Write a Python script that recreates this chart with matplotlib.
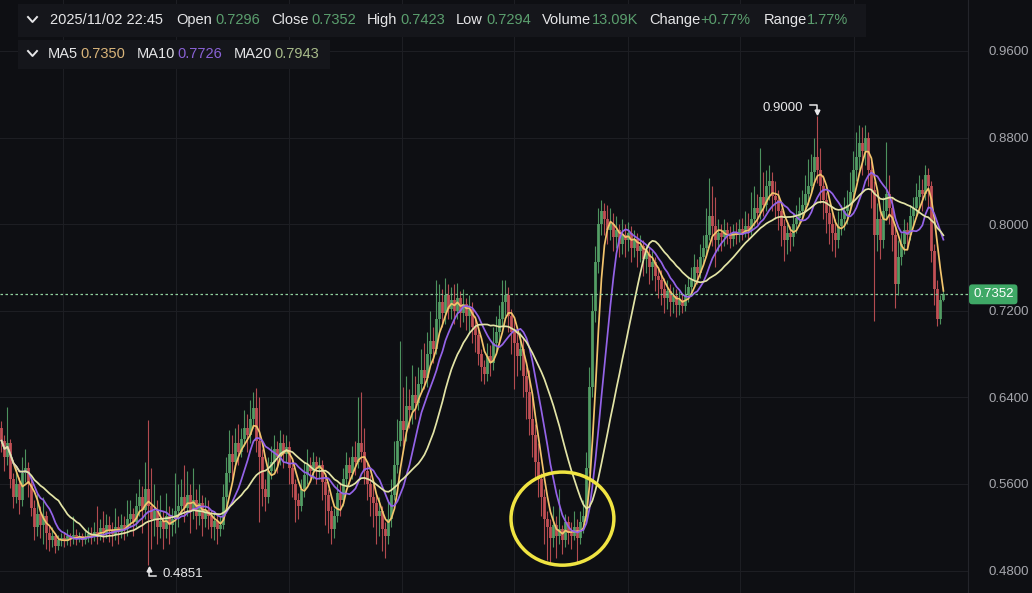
import numpy as np
import pandas as pd
import matplotlib
matplotlib.use('Agg')
import matplotlib.pyplot as plt
from matplotlib.patches import Ellipse, Rectangle
from matplotlib.lines import Line2D
from matplotlib.transforms import blended_transform_factory

W, H = 1032, 593

first_open = 0.612
closes = [0.600, 0.585, 0.598, 0.565, 0.548, 0.560, 0.545, 0.570, 0.575, 0.560,
          0.538, 0.520, 0.532, 0.522, 0.530, 0.515, 0.508, 0.512, 0.503, 0.508,
          0.510, 0.507, 0.512, 0.509, 0.513, 0.510, 0.512, 0.508, 0.511, 0.514,
          0.512, 0.516, 0.513, 0.519, 0.515, 0.522, 0.517, 0.514, 0.520, 0.516,
          0.522, 0.518, 0.528, 0.532, 0.525, 0.540, 0.548, 0.536, 0.555, 0.540,
          0.528, 0.535, 0.520, 0.526, 0.518, 0.530, 0.522, 0.528, 0.535, 0.540,
          0.548, 0.538, 0.550, 0.535, 0.545, 0.530, 0.542, 0.528, 0.536, 0.530,
          0.520, 0.526, 0.518, 0.522, 0.548, 0.570, 0.588, 0.580, 0.598, 0.590,
          0.602, 0.612, 0.605, 0.620, 0.630, 0.600, 0.585, 0.555, 0.548, 0.572,
          0.580, 0.592, 0.585, 0.598, 0.588, 0.594, 0.575, 0.560, 0.545, 0.540,
          0.555, 0.568, 0.578, 0.572, 0.580, 0.574, 0.578, 0.562, 0.550, 0.535,
          0.518, 0.530, 0.552, 0.545, 0.565, 0.578, 0.570, 0.585, 0.580, 0.598,
          0.590, 0.572, 0.560, 0.548, 0.542, 0.530, 0.535, 0.518, 0.512, 0.528,
          0.550, 0.578, 0.600, 0.618, 0.610, 0.632, 0.628, 0.642, 0.635, 0.652,
          0.665, 0.658, 0.680, 0.692, 0.685, 0.712, 0.728, 0.718, 0.735, 0.722,
          0.730, 0.720, 0.732, 0.718, 0.726, 0.715, 0.722, 0.705, 0.698, 0.680,
          0.668, 0.662, 0.678, 0.672, 0.690, 0.700, 0.712, 0.728, 0.735, 0.715,
          0.700, 0.690, 0.678, 0.685, 0.660, 0.645, 0.620, 0.605, 0.580, 0.565,
          0.548, 0.528, 0.520, 0.510, 0.522, 0.512, 0.518, 0.508, 0.525, 0.515,
          0.512, 0.520, 0.510, 0.525, 0.530, 0.575, 0.650, 0.720, 0.765, 0.800,
          0.812, 0.805, 0.795, 0.800, 0.788, 0.795, 0.782, 0.790, 0.785, 0.792,
          0.778, 0.786, 0.775, 0.780, 0.768, 0.772, 0.760, 0.765, 0.752, 0.748,
          0.740, 0.732, 0.738, 0.728, 0.734, 0.725, 0.730, 0.724, 0.735, 0.742,
          0.748, 0.760, 0.755, 0.770, 0.778, 0.790, 0.808, 0.798, 0.785, 0.792,
          0.788, 0.795, 0.790, 0.786, 0.793, 0.790, 0.796, 0.792, 0.798, 0.794,
          0.805, 0.815, 0.810, 0.825, 0.818, 0.835, 0.840, 0.826, 0.822, 0.812,
          0.798, 0.785, 0.792, 0.788, 0.800, 0.806, 0.812, 0.818, 0.828, 0.835,
          0.848, 0.862, 0.850, 0.835, 0.822, 0.810, 0.800, 0.792, 0.785, 0.798,
          0.805, 0.812, 0.818, 0.830, 0.850, 0.862, 0.875, 0.868, 0.880, 0.850,
          0.832, 0.790, 0.805, 0.785, 0.812, 0.828, 0.815, 0.790, 0.745, 0.770,
          0.782, 0.795, 0.790, 0.808, 0.815, 0.825, 0.832, 0.828, 0.845, 0.835,
          0.775, 0.740, 0.712, 0.7296, 0.7352]
highs = [0.618, 0.605, 0.631, 0.602, 0.570, 0.575, 0.566, 0.585, 0.592, 0.580,
         0.565, 0.545, 0.552, 0.540, 0.548, 0.535, 0.522, 0.520, 0.515, 0.513,
         0.515, 0.516, 0.518, 0.515, 0.530, 0.518, 0.516, 0.515, 0.517, 0.520,
         0.520, 0.525, 0.540, 0.528, 0.535, 0.532, 0.530, 0.525, 0.538, 0.530,
         0.532, 0.530, 0.545, 0.545, 0.538, 0.552, 0.565, 0.558, 0.580, 0.619,
         0.575, 0.560, 0.545, 0.550, 0.535, 0.552, 0.540, 0.538, 0.570, 0.560,
         0.565, 0.578, 0.572, 0.560, 0.575, 0.555, 0.560, 0.550, 0.548, 0.545,
         0.536, 0.535, 0.532, 0.530, 0.560, 0.585, 0.610, 0.605, 0.612, 0.615,
         0.612, 0.628, 0.625, 0.638, 0.645, 0.649, 0.640, 0.592, 0.565, 0.585,
         0.595, 0.605, 0.600, 0.610, 0.606, 0.605, 0.600, 0.582, 0.565, 0.552,
         0.565, 0.580, 0.592, 0.585, 0.590, 0.586, 0.585, 0.582, 0.570, 0.555,
         0.540, 0.538, 0.560, 0.562, 0.575, 0.590, 0.585, 0.595, 0.600, 0.640,
         0.645, 0.612, 0.580, 0.568, 0.560, 0.550, 0.548, 0.540, 0.525, 0.545,
         0.565, 0.600, 0.620, 0.692, 0.650, 0.660, 0.648, 0.670, 0.660, 0.668,
         0.685, 0.690, 0.700, 0.720, 0.705, 0.748, 0.745, 0.740, 0.750, 0.745,
         0.742, 0.745, 0.746, 0.738, 0.740, 0.732, 0.735, 0.728, 0.715, 0.705,
         0.685, 0.675, 0.690, 0.688, 0.705, 0.715, 0.725, 0.748, 0.748, 0.742,
         0.722, 0.712, 0.705, 0.700, 0.695, 0.668, 0.665, 0.640, 0.615, 0.598,
         0.570, 0.555, 0.535, 0.528, 0.540, 0.530, 0.555, 0.522, 0.532, 0.530,
         0.525, 0.535, 0.528, 0.535, 0.545, 0.590, 0.668, 0.735, 0.780, 0.815,
         0.822, 0.820, 0.818, 0.815, 0.810, 0.808, 0.800, 0.805, 0.800, 0.802,
         0.798, 0.795, 0.792, 0.790, 0.785, 0.782, 0.778, 0.775, 0.770, 0.760,
         0.758, 0.750, 0.748, 0.745, 0.742, 0.740, 0.738, 0.736, 0.745, 0.752,
         0.760, 0.772, 0.768, 0.782, 0.790, 0.815, 0.843, 0.835, 0.825, 0.805,
         0.800, 0.805, 0.802, 0.798, 0.800, 0.802, 0.805, 0.806, 0.812, 0.810,
         0.830, 0.835, 0.828, 0.870, 0.848, 0.850, 0.855, 0.848, 0.840, 0.832,
         0.815, 0.805, 0.800, 0.798, 0.810, 0.818, 0.825, 0.832, 0.845, 0.860,
         0.865, 0.880, 0.900, 0.870, 0.845, 0.830, 0.818, 0.812, 0.805, 0.812,
         0.818, 0.825, 0.832, 0.848, 0.868, 0.885, 0.892, 0.890, 0.892, 0.885,
         0.858, 0.840, 0.820, 0.815, 0.825, 0.876, 0.845, 0.825, 0.800, 0.785,
         0.792, 0.805, 0.802, 0.818, 0.825, 0.838, 0.845, 0.842, 0.855, 0.852,
         0.840, 0.782, 0.748, 0.735, 0.7423]
lows = [0.590, 0.572, 0.578, 0.556, 0.538, 0.542, 0.532, 0.540, 0.562, 0.548,
        0.530, 0.508, 0.512, 0.510, 0.505, 0.500, 0.498, 0.502, 0.496, 0.499,
        0.503, 0.502, 0.504, 0.503, 0.505, 0.504, 0.506, 0.503, 0.505, 0.506,
        0.505, 0.507, 0.505, 0.508, 0.506, 0.510, 0.506, 0.503, 0.508, 0.505,
        0.510, 0.508, 0.512, 0.520, 0.512, 0.520, 0.530, 0.515, 0.528, 0.4851,
        0.500, 0.512, 0.505, 0.510, 0.500, 0.510, 0.505, 0.512, 0.515, 0.520,
        0.532, 0.525, 0.530, 0.515, 0.528, 0.518, 0.522, 0.512, 0.520, 0.518,
        0.510, 0.508, 0.505, 0.512, 0.518, 0.540, 0.562, 0.565, 0.575, 0.578,
        0.585, 0.595, 0.590, 0.598, 0.612, 0.590, 0.525, 0.540, 0.535, 0.542,
        0.565, 0.572, 0.570, 0.578, 0.575, 0.580, 0.560, 0.548, 0.525, 0.528,
        0.535, 0.548, 0.560, 0.562, 0.565, 0.560, 0.565, 0.545, 0.522, 0.515,
        0.505, 0.510, 0.525, 0.530, 0.540, 0.558, 0.560, 0.565, 0.568, 0.575,
        0.580, 0.560, 0.545, 0.530, 0.520, 0.505, 0.512, 0.498, 0.492, 0.505,
        0.520, 0.545, 0.570, 0.595, 0.595, 0.600, 0.612, 0.615, 0.620, 0.628,
        0.645, 0.648, 0.650, 0.670, 0.672, 0.680, 0.700, 0.705, 0.708, 0.712,
        0.712, 0.708, 0.712, 0.705, 0.710, 0.702, 0.700, 0.690, 0.682, 0.670,
        0.655, 0.652, 0.655, 0.660, 0.665, 0.680, 0.690, 0.705, 0.715, 0.700,
        0.680, 0.648, 0.660, 0.665, 0.640, 0.620, 0.605, 0.585, 0.565, 0.548,
        0.530, 0.505, 0.490, 0.487, 0.502, 0.492, 0.505, 0.495, 0.502, 0.505,
        0.500, 0.508, 0.488, 0.505, 0.515, 0.525, 0.570, 0.640, 0.710, 0.755,
        0.790, 0.790, 0.782, 0.785, 0.775, 0.778, 0.770, 0.772, 0.770, 0.775,
        0.765, 0.770, 0.760, 0.765, 0.752, 0.755, 0.745, 0.748, 0.738, 0.732,
        0.725, 0.718, 0.722, 0.715, 0.718, 0.714, 0.716, 0.718, 0.720, 0.728,
        0.735, 0.742, 0.745, 0.750, 0.762, 0.770, 0.785, 0.780, 0.760, 0.775,
        0.775, 0.780, 0.782, 0.778, 0.780, 0.782, 0.784, 0.785, 0.788, 0.786,
        0.790, 0.798, 0.800, 0.805, 0.808, 0.812, 0.822, 0.812, 0.805, 0.795,
        0.780, 0.766, 0.772, 0.775, 0.780, 0.792, 0.798, 0.805, 0.812, 0.818,
        0.828, 0.840, 0.838, 0.820, 0.805, 0.792, 0.782, 0.775, 0.770, 0.778,
        0.790, 0.795, 0.800, 0.810, 0.825, 0.840, 0.850, 0.845, 0.855, 0.835,
        0.815, 0.711, 0.775, 0.768, 0.778, 0.805, 0.800, 0.775, 0.723, 0.735,
        0.762, 0.772, 0.778, 0.785, 0.798, 0.808, 0.815, 0.812, 0.822, 0.815,
        0.765, 0.725, 0.706, 0.708, 0.7294]

ma_periods = [5, 10, 20]
ma_colors = ['#f2c46d', '#9463e8', '#e3e4a6']
y_ticks = [0.48, 0.56, 0.64, 0.72, 0.80, 0.88, 0.96]
grid_x = [20.5, 58.1, 95.8, 133.4, 171.0, 208.7, 246.3, 284.1]

header_row1 = [(50, '2025/11/02 22:45', 'w'), (176, 'Open', 'w'), (215, '0.7296', 'g'),
               (271, 'Close', 'w'), (311, '0.7352', 'g'), (367, 'High', 'w'),
               (400, '0.7423', 'g'), (456, 'Low', 'w'), (486, '0.7294', 'g'),
               (542, 'Volume', 'w'), (592, '13.09K', 'g'), (649, 'Change', 'w'),
               (700, '+0.77%', 'g'), (764, 'Range', 'w'), (807, '1.77%', 'g')]
header_row2 = [(48, 'MA5', 'w'), (80, '0.7350', '#d9b47a'), (137, 'MA10', 'w'),
               (177, '0.7726', '#8a62d6'), (234, 'MA20', 'w'), (274, '0.7943', '#a8bb8a')]

# highlight circle around the bottom (data coords)
circle_center = (187.0, 0.528)
circle_size = (34.3, 0.086)

BG = '#0e0f13'
UP, DOWN = '#55a167', '#c65257'
plt.rcParams['font.family'] = ['Liberation Sans', 'DejaVu Sans']

closes = np.array(closes)
highs = np.array(highs)
lows = np.array(lows)
opens = np.r_[first_open, closes[:-1]]
x = np.arange(len(closes))

fig = plt.figure(figsize=(W / 100, H / 100), dpi=100, facecolor=BG)
ax = fig.add_axes([0, 0, 968 / W, 1])
ax.set_facecolor(BG)
ax.set_xlim(-0.5, 322.2)
ax.set_ylim(0.4593, 1.0071)

up = closes >= opens
colors = np.where(up, UP, DOWN)
ax.vlines(x, lows, highs, colors=colors, lw=0.8, alpha=0.9, zorder=2)
body_lo = np.minimum(opens, closes)
body_h = np.maximum(np.abs(closes - opens), 0.0008)
ax.bar(x, body_h, bottom=body_lo, width=0.85, color=colors, alpha=0.85,
       linewidth=0, zorder=2)

s = pd.Series(closes)
for p, c in zip(ma_periods, ma_colors):
    ax.plot(x, s.rolling(p, min_periods=1).mean(), color=c, lw=1.25, zorder=3)

ax.yaxis.tick_right()
ax.set_yticks(y_ticks)
ax.set_yticklabels([f'{t:.4f}' for t in y_ticks])
ax.set_xticks(grid_x)
ax.tick_params(axis='x', length=0, labelbottom=False)
ax.tick_params(axis='y', length=0, pad=15, labelcolor='#a6a7ad', labelsize=9.5)
ax.grid(color='#1d1e23', lw=0.8, zorder=0)
for side in ['top', 'left', 'bottom']:
    ax.spines[side].set_visible(False)
ax.spines['right'].set_color('#24252b')

last = closes[-1]
ax.axhline(last, color='#8fcf9d', ls=(0, (2, 2)), lw=0.9, zorder=4)
tr = blended_transform_factory(ax.transAxes, ax.transData)
ax.text(1 + 5 / 968, last, f'{last:.4f}', transform=tr, ha='left', va='center',
        color='white', fontsize=9.5, zorder=5,
        bbox=dict(boxstyle='round,pad=0.3,rounding_size=0.25', fc='#3fa866', ec='none'))

ax.add_patch(Ellipse(circle_center, circle_size[0], circle_size[1], fill=False,
                     ec='#f0e442', lw=2.5, zorder=6))

# max / min markers
ih = int(np.argmax(highs))
il = int(np.argmin(lows))
ph = ax.transData.transform((ih, highs[ih]))
pl = ax.transData.transform((il, lows[il]))
ac = '#e8e8ea'
fig.add_artist(Line2D([ph[0] - 7, ph[0], ph[0]], [ph[1] + 11, ph[1] + 11, ph[1] + 4],
                      transform=None, color=ac, lw=1.1))
fig.add_artist(Line2D([ph[0]], [ph[1] + 4], transform=None, marker='v', ms=3.5,
                      color=ac, lw=0))
fig.text(ph[0] - 14, ph[1] + 8, f'{highs[ih]:.4f}', transform=None, ha='right',
         va='center', color=ac, fontsize=9.5)
fig.add_artist(Line2D([pl[0] + 8, pl[0] + 1, pl[0] + 1], [pl[1] - 11, pl[1] - 11, pl[1] - 4],
                      transform=None, color=ac, lw=1.1))
fig.add_artist(Line2D([pl[0] + 1], [pl[1] - 4], transform=None, marker='^', ms=3.5,
                      color=ac, lw=0))
fig.text(pl[0] + 14, pl[1] - 9, f'{lows[il]:.4f}', transform=None, ha='left',
         va='center', color=ac, fontsize=9.5)

# header
fig.patches.append(Rectangle((18 / W, 1 - 37 / H), 848 / W, 33 / H, transform=fig.transFigure,
                             fc='#15161b', ec='none', zorder=0))
fig.patches.append(Rectangle((18 / W, 1 - 69 / H), 312 / W, 29 / H, transform=fig.transFigure,
                             fc='#15161b', ec='none', zorder=0))
col = {'w': '#e6e6e8', 'g': '#5b9f6e'}
for row_y, row in [(20, header_row1), (54, header_row2)]:
    fig.add_artist(Line2D([28 / W, 32.5 / W, 37 / W],
                          [1 - (row_y - 3) / H, 1 - (row_y + 2) / H, 1 - (row_y - 3) / H],
                          transform=fig.transFigure, color='#e6e6e8', lw=1.4))
    for px, t, c in row:
        fig.text(px / W, 1 - row_y / H, t, ha='left', va='center',
                 color=col.get(c, c), fontsize=10.5)

fig.savefig('out.png', dpi=100, facecolor=BG)
